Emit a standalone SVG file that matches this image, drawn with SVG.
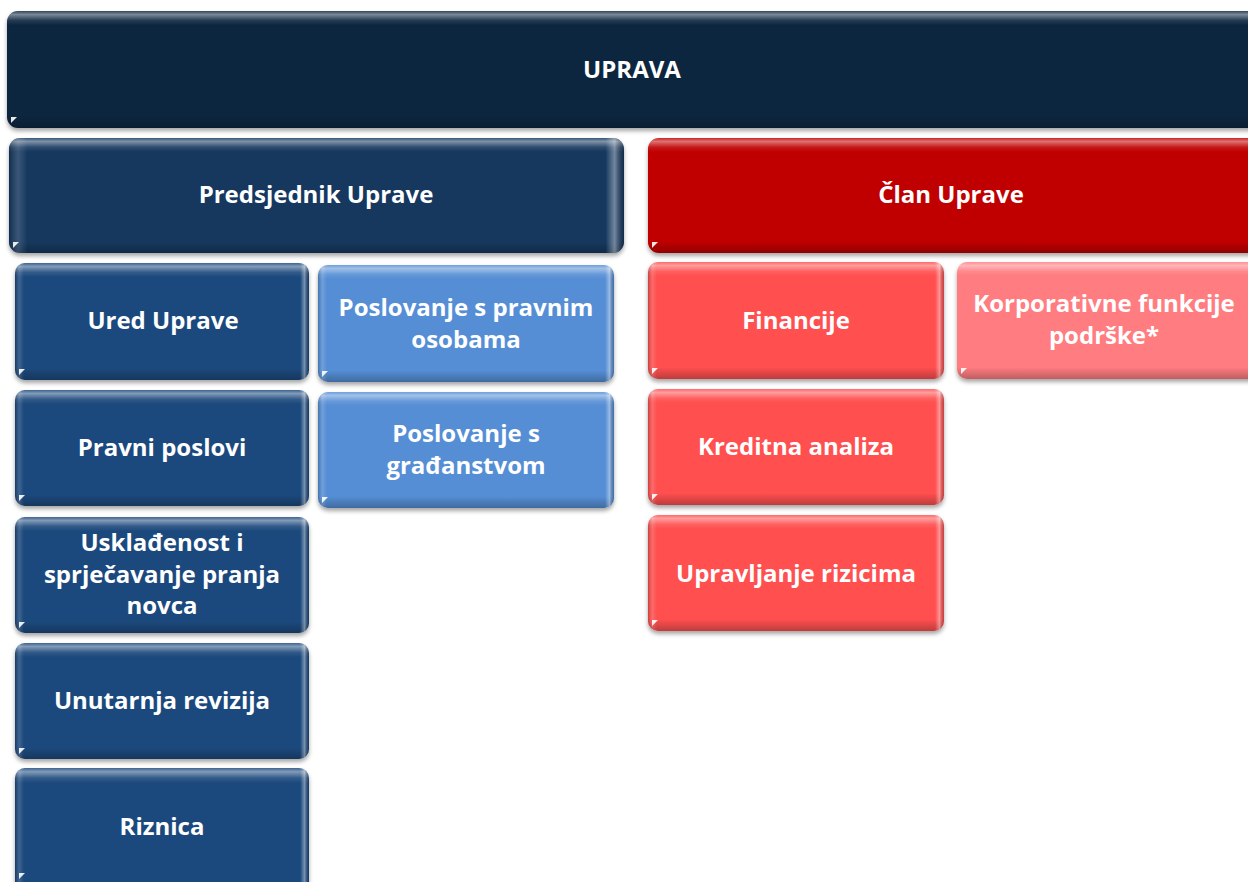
<svg xmlns="http://www.w3.org/2000/svg" width="1248" height="882" viewBox="0 0 1248 882">
<defs>
<style>
.t{font-family:"Open Sans","Liberation Sans",sans-serif;font-weight:bold;font-size:24px;fill:#ffffff;text-anchor:middle}
.gl{fill:url(#gloss)}
.sd{fill:url(#side)}
.tri{fill:#ffffff;opacity:0.9}
.bx{filter:url(#sh)}
</style>
<linearGradient id="gloss" x1="0" y1="0" x2="0" y2="1">
<stop offset="0" stop-color="#ffffff" stop-opacity="0.15"/>
<stop offset="0.03" stop-color="#ffffff" stop-opacity="0.45"/>
<stop offset="0.08" stop-color="#ffffff" stop-opacity="0.1"/>
<stop offset="0.12" stop-color="#ffffff" stop-opacity="0"/>
<stop offset="0.9" stop-color="#000000" stop-opacity="0"/>
<stop offset="1" stop-color="#000000" stop-opacity="0.25"/>
</linearGradient>
<linearGradient id="side" x1="0" y1="0" x2="1" y2="0">
<stop offset="0" stop-color="#000000" stop-opacity="0.2"/>
<stop offset="0.015" stop-color="#ffffff" stop-opacity="0.15"/>
<stop offset="0.03" stop-color="#ffffff" stop-opacity="0"/>
<stop offset="0.97" stop-color="#ffffff" stop-opacity="0"/>
<stop offset="0.985" stop-color="#ffffff" stop-opacity="0.4"/>
<stop offset="1" stop-color="#000000" stop-opacity="0.2"/>
</linearGradient>
<filter id="sh" x="-5%" y="-10%" width="110%" height="125%">
<feDropShadow dx="0" dy="3" stdDeviation="2" flood-color="#000000" flood-opacity="0.35"/>
</filter>
</defs>
<rect width="1248" height="882" fill="#ffffff"/>
<g id="connectors"></g>

<g id="uprava">
<rect class="bx" x="7" y="11" width="1260" height="117" rx="11" fill="#10253f"/>
<rect class="gl" x="7" y="11" width="1260" height="117" rx="11"/>
<polygon class="tri" points="11,117 17,117 11,123"/>
<text class="t" x="632" y="78">UPRAVA</text>
</g>

<g id="predsjednik">
<rect class="bx" x="9" y="138" width="615" height="115" rx="11" fill="#17375e"/>
<rect class="gl" x="9" y="138" width="615" height="115" rx="11"/>
<rect class="sd" x="9" y="138" width="615" height="115" rx="11"/>
<polygon class="tri" points="13,242 19,242 13,248"/>
<text class="t" x="316" y="203">Predsjednik Uprave</text>
</g>

<g id="clan">
<rect class="bx" x="648" y="138" width="620" height="115" rx="11" fill="#c00000"/>
<rect class="gl" x="648" y="138" width="620" height="115" rx="11"/>
<polygon class="tri" points="652,242 658,242 652,248"/>
<text class="t" x="951" y="203">Član Uprave</text>
</g>

<g id="ured">
<rect class="bx" x="15" y="263" width="294" height="117" rx="10" fill="#1f497d"/>
<rect class="gl" x="15" y="263" width="294" height="117" rx="10"/>
<rect class="sd" x="15" y="263" width="294" height="117" rx="10"/>
<polygon class="tri" points="19,369 25,369 19,375"/>
<text class="t" x="163" y="329">Ured Uprave</text>
</g>

<g id="pravni">
<rect class="bx" x="15" y="390" width="294" height="116" rx="10" fill="#1f497d"/>
<rect class="gl" x="15" y="390" width="294" height="116" rx="10"/>
<rect class="sd" x="15" y="390" width="294" height="116" rx="10"/>
<polygon class="tri" points="19,495 25,495 19,501"/>
<text class="t" x="162" y="456">Pravni poslovi</text>
</g>

<g id="uskladenost">
<rect class="bx" x="15" y="517" width="294" height="116" rx="10" fill="#1f497d"/>
<rect class="gl" x="15" y="517" width="294" height="116" rx="10"/>
<rect class="sd" x="15" y="517" width="294" height="116" rx="10"/>
<polygon class="tri" points="19,622 25,622 19,628"/>
<text class="t" x="162" y="551">Usklađenost i</text>
<text class="t" x="162" y="583">sprječavanje pranja</text>
<text class="t" x="162" y="614">novca</text>
</g>

<g id="revizija">
<rect class="bx" x="15" y="643" width="294" height="116" rx="10" fill="#1f497d"/>
<rect class="gl" x="15" y="643" width="294" height="116" rx="10"/>
<rect class="sd" x="15" y="643" width="294" height="116" rx="10"/>
<polygon class="tri" points="19,748 25,748 19,754"/>
<text class="t" x="162" y="709">Unutarnja revizija</text>
</g>

<g id="riznica">
<rect class="bx" x="15" y="768" width="294" height="125" rx="10" fill="#1f497d"/>
<rect class="gl" x="15" y="768" width="294" height="125" rx="10"/>
<rect class="sd" x="15" y="768" width="294" height="125" rx="10"/>
<polygon class="tri" points="19,873 25,873 19,879"/>
<text class="t" x="162" y="835">Riznica</text>
</g>

<g id="pravne-osobe">
<rect class="bx" x="318" y="265" width="296" height="117" rx="10" fill="#558ed5"/>
<rect class="gl" x="318" y="265" width="296" height="117" rx="10"/>
<rect class="sd" x="318" y="265" width="296" height="117" rx="10"/>
<polygon class="tri" points="322,371 328,371 322,377"/>
<text class="t" x="466" y="316">Poslovanje s pravnim</text>
<text class="t" x="466" y="348">osobama</text>
</g>

<g id="gradanstvo">
<rect class="bx" x="318" y="392" width="296" height="116" rx="10" fill="#558ed5"/>
<rect class="gl" x="318" y="392" width="296" height="116" rx="10"/>
<rect class="sd" x="318" y="392" width="296" height="116" rx="10"/>
<polygon class="tri" points="322,497 328,497 322,503"/>
<text class="t" x="466" y="442">Poslovanje s</text>
<text class="t" x="466" y="474">građanstvom</text>
</g>

<g id="financije">
<rect class="bx" x="648" y="262" width="296" height="117" rx="10" fill="#ff5050"/>
<rect class="gl" x="648" y="262" width="296" height="117" rx="10"/>
<rect class="sd" x="648" y="262" width="296" height="117" rx="10"/>
<polygon class="tri" points="652,368 658,368 652,374"/>
<text class="t" x="796" y="329">Financije</text>
</g>

<g id="kreditna">
<rect class="bx" x="648" y="389" width="296" height="116" rx="10" fill="#ff5050"/>
<rect class="gl" x="648" y="389" width="296" height="116" rx="10"/>
<rect class="sd" x="648" y="389" width="296" height="116" rx="10"/>
<polygon class="tri" points="652,494 658,494 652,500"/>
<text class="t" x="796" y="455">Kreditna analiza</text>
</g>

<g id="rizici">
<rect class="bx" x="648" y="515" width="296" height="116" rx="10" fill="#ff5050"/>
<rect class="gl" x="648" y="515" width="296" height="116" rx="10"/>
<rect class="sd" x="648" y="515" width="296" height="116" rx="10"/>
<polygon class="tri" points="652,620 658,620 652,626"/>
<text class="t" x="796" y="582">Upravljanje rizicima</text>
</g>

<g id="korporativne">
<rect class="bx" x="957" y="262" width="310" height="117" rx="10" fill="#ff7c80"/>
<rect class="gl" x="957" y="262" width="310" height="117" rx="10"/>
<polygon class="tri" points="961,368 967,368 961,374"/>
<text class="t" x="1104" y="312">Korporativne funkcije</text>
<text class="t" x="1104" y="344">podrške*</text>
</g>
</svg>
